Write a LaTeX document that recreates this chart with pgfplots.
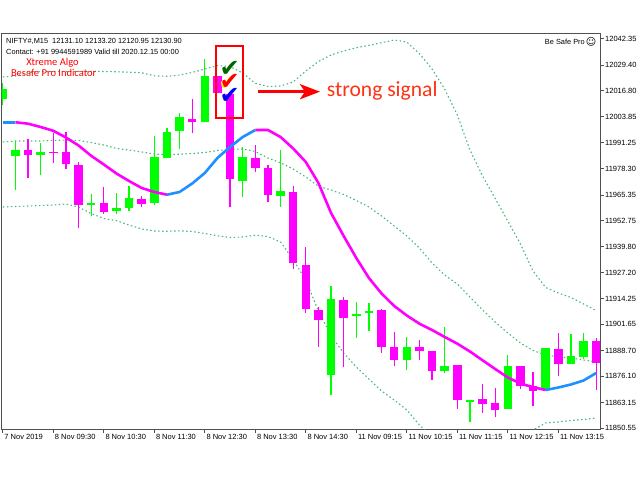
\documentclass[border=0pt]{standalone}
\usepackage{pgfplots}
\pgfplotsset{compat=1.18}
\usepackage{pgfplotstable}
\usepackage{fontspec}
\setmainfont{Liberation Sans}
\newfontfamily\dejavu{DejaVu Sans}
\newfontfamily\carlito{Carlito}
\usetikzlibrary{arrows.meta}
\definecolor{bull}{RGB}{0,255,0}
\definecolor{bear}{RGB}{255,0,255}
\definecolor{mablue}{RGB}{30,144,255}
\definecolor{band}{RGB}{70,185,120}
\definecolor{frame}{RGB}{80,80,80}
\definecolor{sigred}{RGB}{255,50,20}
\definecolor{chkgreen}{RGB}{0,100,0}

\pgfplotstableread{
k O C H L
0 12012.64 12017.57 12020.38 12009.69
1 11984.71 11987.67 11992.10 11967.81
3 11985.20 11986.53 11990.82 11975.05
7 11960.27 11961.55 11965.84 11955.15
9 11957.32 11958.94 11966.33 11955.99
10 11958.79 11963.72 11969.93 11957.61
12 11961.26 11984.07 11994.27 11960.57
13 11983.43 11996.53 11998.21 11983.43
14 11996.73 12003.63 12005.89 11987.86
16 12001.46 12024.12 12032.35 12001.46
19 11972.39 11983.92 11988.85 11964.51
22 11965.00 11967.17 11987.52 11959.58
26 11876.66 11914.11 11920.37 11866.81
28 11905.73 11906.72 11912.78 11894.89
29 11907.06 11908.34 11911.99 11898.49
32 11884.06 11890.31 11895.24 11879.13
35 11878.49 11881.25 11900.46 11877.50
37 11863.51 11864.50 11864.50 11853.66
40 11859.91 11881.10 11886.52 11859.91
43 11869.27 11890.11 11890.11 11869.27
45 11882.08 11885.88 11896.86 11882.08
46 11885.39 11893.27 11897.36 11884.55
}\bulltab

\pgfplotstableread{
k O C H L
2 11987.67 11985.20 11992.79 11973.72
4 11986.68 11986.04 11995.75 11980.97
5 11986.68 11980.62 11996.53 11978.16
6 11980.13 11960.27 11981.75 11948.94
8 11961.26 11957.12 11969.14 11955.99
11 11963.23 11960.91 11965.00 11959.29
15 12002.64 12001.31 12012.64 11995.89
17 12023.83 12015.45 12023.83 12015.45
18 12015.11 11973.23 12015.60 11959.29
20 11983.43 11978.50 11989.98 11976.53
21 11978.65 11965.35 11980.13 11961.75
23 11966.97 11931.70 11969.93 11928.89
24 11931.01 11909.18 11939.58 11907.06
25 11908.69 11903.91 11910.02 11890.31
27 11913.76 11904.75 11915.24 11880.46
30 11908.54 11890.61 11909.04 11887.50
31 11890.61 11884.20 11897.70 11880.95
33 11890.31 11888.34 11893.91 11884.06
34 11888.64 11878.78 11888.64 11874.35
36 11881.59 11864.50 11881.59 11859.91
38 11864.84 11862.38 11872.23 11857.94
39 11862.72 11859.57 11870.11 11855.83
41 11881.10 11871.39 11881.10 11869.77
42 11871.39 11868.93 11878.00 11861.54
44 11889.48 11882.08 11897.21 11876.32
47 11893.57 11882.43 11894.90 11869.27
}\beartab

\pgfplotstableread{
k U M L MA
0 12023.48 11991.46 11959.44 12001.17
1 12023.98 11991.95 11959.68 12001.17
2 12025.70 11991.95 11959.93 12000.48
3 12026.19 11991.95 11960.17 11998.85
4 12026.29 11992.20 11960.42 11996.98
5 12026.29 11992.44 11960.91 11993.68
6 12026.29 11992.20 11959.44 11989.74
7 12026.29 11991.21 11956.23 11984.66
8 12026.19 11989.98 11953.77 11980.38
9 12026.05 11988.26 11952.69 11975.94
10 12025.85 11987.52 11950.57 11972.24
11 12025.55 11986.53 11948.60 11968.80
12 12024.07 11985.55 11947.61 11966.83
13 12023.83 11985.20 11947.46 11965.49
14 12024.47 11985.45 11947.71 11966.83
15 12025.70 11985.79 11947.36 11971.01
16 12027.42 11986.29 11946.38 11976.19
17 12029.10 11987.22 11945.25 11983.58
18 12028.66 11987.86 11944.41 11989.00
19 12025.45 11988.01 11944.65 11993.92
20 12020.38 11986.78 11945.54 11997.37
21 12018.80 11983.58 11944.90 11997.37
22 12019.05 11981.26 11942.20 11993.92
23 12021.02 11978.16 11933.50 11988.26
24 12026.44 11974.22 11923.47 11981.61
25 12031.12 11969.68 11908.20 11971.26
26 12034.32 11967.81 11895.88 11956.48
27 12036.29 11965.59 11887.50 11945.15
28 12037.92 11962.64 11880.61 11934.31
29 12039.10 11959.44 11874.69 11924.45
30 12040.38 11955.00 11868.78 11916.82
31 12041.71 11950.07 11864.35 11910.66
32 12040.73 11945.15 11859.42 11905.98
33 12035.00 11939.24 11852.03 11901.94
34 12027.42 11931.85 11846.12 11898.84
35 12017.57 11925.93 11835.77 11895.39
36 12004.76 11921.50 11836.76 11892.09
37 11987.52 11915.09 11842.67 11888.24
38 11974.71 11908.69 11842.67 11883.91
39 11963.62 11902.78 11841.68 11879.62
40 11952.54 11897.36 11842.18 11875.43
41 11941.21 11892.43 11843.66 11872.48
42 11927.90 11888.74 11849.57 11870.65
43 11919.77 11886.52 11853.02 11869.27
44 11917.06 11885.53 11853.51 11870.51
45 11914.85 11885.04 11854.25 11871.98
46 11911.65 11884.06 11854.74 11873.95
47 11908.44 11883.07 11855.48 11877.65
}\indtab

\begin{document}
\begin{tikzpicture}
\fill[white] (0,0) rectangle (640pt,480pt);
\begin{axis}[
  at={(1.7pt,50.3pt)}, anchor=south west,
  scale only axis, width=599pt, height=395.7pt,
  xmin=-0.087, xmax=47.358,
  ymin=11849.71, ymax=12044.67,
  scaled y ticks=false, scaled x ticks=false,
  axis line style={draw=frame, line width=1pt},
  tick align=outside,
  xtick pos=left, ytick pos=right,
  major tick length=2.8pt,
  every tick/.style={draw=frame, line width=0.8pt},
  xtick={0,4,8,12,16,20,24,28,32,36,40,44},
  xticklabels={7 Nov 2019,8 Nov 09:30,8 Nov 10:30,8 Nov 11:30,8 Nov 12:30,8 Nov 13:30,8 Nov 14:30,11 Nov 09:15,11 Nov 10:15,11 Nov 11:15,11 Nov 12:15,11 Nov 13:15},
  ytick={12042.35,12029.40,12016.80,12003.85,11991.25,11978.30,11965.35,11952.75,11939.80,11927.20,11914.25,11901.65,11888.70,11876.10,11863.15,11850.55},
  yticklabels={12042.35,12029.40,12016.80,12003.85,11991.25,11978.30,11965.35,11952.75,11939.80,11927.20,11914.25,11901.65,11888.70,11876.10,11863.15,11850.55},
  ticklabel style={font=\fontsize{7.5}{9}\selectfont, text=black, inner sep=0pt},
  xticklabel style={anchor=north west, xshift=1.5pt, yshift=-1.5pt},
  yticklabel style={anchor=west, xshift=1.5pt},
  clip=true,
  candle/.style={draw=none, mark=none, forget plot, error bars/.cd, y dir=plus, y explicit, error mark=none},
]
% Bollinger bands
\addplot[band, line width=1.1pt, dash pattern=on 1.5pt off 2.5pt] table[x=k,y=U] {\indtab};
\addplot[band, line width=1.1pt, dash pattern=on 1.5pt off 2.5pt] table[x=k,y=M] {\indtab};
\addplot[band, line width=1.1pt, dash pattern=on 1.5pt off 2.5pt] table[x=k,y=L] {\indtab};
% wicks
\addplot[candle, error bar style={draw=bull, line width=1.2pt}]
  table[x=k, y=L, y error plus expr=\thisrow{H}-\thisrow{L}] {\bulltab};
\addplot[candle, error bar style={draw=bear, line width=1.2pt}]
  table[x=k, y=L, y error plus expr=\thisrow{H}-\thisrow{L}] {\beartab};
% bodies
\addplot[candle, error bar style={draw=bull, line width=8.6pt}]
  table[x=k, y=O, y error plus expr=\thisrow{C}-\thisrow{O}] {\bulltab};
\addplot[candle, error bar style={draw=bear, line width=8.6pt}]
  table[x=k, y=C, y error plus expr=\thisrow{O}-\thisrow{C}] {\beartab};
% moving average
\addplot[bear, line width=2.6pt, restrict x to domain=1:13] table[x=k,y=MA] {\indtab};
\addplot[bear, line width=2.6pt, restrict x to domain=20:43] table[x=k,y=MA] {\indtab};
\addplot[mablue, line width=2.6pt, restrict x to domain=0:1] table[x=k,y=MA] {\indtab};
\addplot[mablue, line width=2.6pt, restrict x to domain=13:20] table[x=k,y=MA] {\indtab};
\addplot[mablue, line width=2.6pt, restrict x to domain=43:47] table[x=k,y=MA] {\indtab};
\end{axis}
% header texts
\node[anchor=west, inner sep=0pt, font=\fontsize{7.4}{9}\selectfont] at (6pt,439pt) {NIFTY\#,M15\ \ 12131.10 12133.20 12120.95 12130.90};
\node[anchor=west, inner sep=0pt, font=\fontsize{7.4}{9}\selectfont] at (6pt,428pt) {Contact: +91 9944591989 Valid till 2020.12.15 00:00};
\node[inner sep=0pt, text=red, font=\carlito\fontsize{10.5}{12}\selectfont] at (52.5pt,417.3pt) {Xtreme Algo};
\node[inner sep=0pt, text=red, font=\carlito\fontsize{10.5}{12}\selectfont] at (53.7pt,406.7pt) {Besafe Pro Indicator};
\node[anchor=east, inner sep=0pt, font=\fontsize{7.4}{9}\selectfont] at (585pt,437.7pt) {Be Safe Pro};
\node[inner sep=0pt, font=\dejavu\fontsize{10}{12}\selectfont] at (591pt,437.7pt) {☺};
% signal box and checks
\draw[red, line width=2pt] (216pt,434pt) rectangle (243.3pt,362pt);
\node[inner sep=0pt, text=chkgreen, font=\dejavu\fontsize{24}{26}\selectfont] at (229.7pt,411pt) {✔};
\node[inner sep=0pt, text=yellow, font=\dejavu\fontsize{24}{26}\selectfont] at (228.3pt,396.8pt) {✔};
\node[inner sep=0pt, text=red, font=\dejavu\fontsize{24}{26}\selectfont] at (229.7pt,398.2pt) {✔};
\node[inner sep=0pt, text=blue, font=\dejavu\fontsize{24}{26}\selectfont] at (229.7pt,384.5pt) {✔};
% arrow and label
\draw[red, line width=3pt, -{Stealth[length=20pt,width=15pt,inset=5pt]}] (258.3pt,388.3pt) -- (320pt,388.3pt);
\node[anchor=base west, inner sep=0pt, text=sigred, font=\carlito\fontsize{21.6}{24}\selectfont] at (326.7pt,383.3pt) {strong signal};
\end{tikzpicture}
\end{document}
